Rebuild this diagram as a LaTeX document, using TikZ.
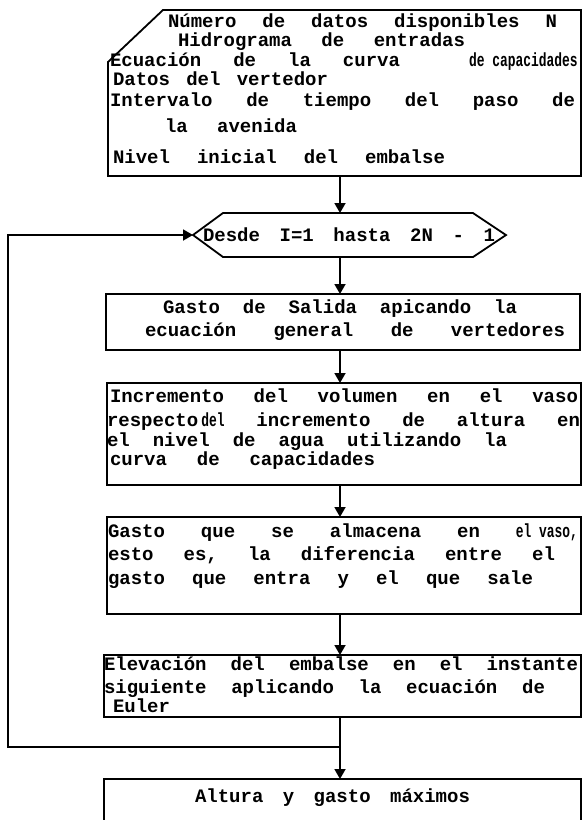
\documentclass[tikz,border=0pt]{standalone}
\usepackage{fontspec}
\usepackage{graphicx}
\usetikzlibrary{arrows.meta}
\newfontfamily\tw{Liberation Mono}
\newcommand\narrowtxt[1]{\scalebox{0.68}[1]{#1}}
\tikzset{
  ln/.style={line width=1.8pt},
  box/.style={ln, draw, rectangle, inner sep=0pt, outer sep=0pt},
  ghost/.style={rectangle, inner sep=0pt, outer sep=0pt},
  arr/.style={ln, -{Triangle[width=11pt,length=10pt]}},
  txt/.style={anchor=base west, inner sep=0pt, outer sep=0pt,
              font=\tw\bfseries\fontsize{19}{20}\selectfont}
}
\newcommand\txl[5]{\node[txt] (#1) at (#2,#3) {\hbox to #4pt{#5}};}
\begin{document}
\begin{tikzpicture}[x=1pt,y=-1pt]
\useasboundingbox (0,0) rectangle (582,820);
% boxes
\node[ghost, minimum width=473pt, minimum height=166pt] (b1) at (344.5,93) {};
\draw[ln] ([xshift=55pt]b1.north west) -- (b1.north east) -- (b1.south east)
   -- (b1.south west) -- ([yshift=-52pt]b1.north west) -- cycle;
\node[ghost, minimum width=250pt, minimum height=44pt] (hex) at (348,235) {};
\coordinate (hexL) at ([xshift=-30pt]hex.west);
\coordinate (hexR) at ([xshift=33pt]hex.east);
\draw[ln] (hex.north west) -- (hex.north east) -- (hexR) -- (hex.south east)
   -- (hex.south west) -- (hexL) -- cycle;
\node[box, minimum width=474pt, minimum height=56pt] (b2) at (343,322) {};
\node[box, minimum width=474pt, minimum height=102pt] (b3) at (344,434) {};
\node[box, minimum width=474pt, minimum height=97pt] (b4) at (344,565.5) {};
\node[box, minimum width=477pt, minimum height=62pt] (b5) at (342.5,686) {};
\node[box, minimum width=477pt, minimum height=61pt] (b6) at (342.5,809.5) {};
% connectors
\coordinate (ax) at (340,0);
\coordinate (jn) at (340,747);
\coordinate (lc) at (8,747);
\draw[arr] (b1.south -| ax) -- (hex.north -| ax);
\draw[arr] (hex.south -| ax) -- (b2.north -| ax);
\draw[arr] (b2.south -| ax) -- (b3.north -| ax);
\draw[arr] (b3.south -| ax) -- (b4.north -| ax);
\draw[arr] (b4.south -| ax) -- (b5.north -| ax);
\draw[arr] (b5.south -| ax) -- (b6.north -| ax);
\draw[arr] (jn) -- (lc) |- (hexL);
% texts
\txl{t11}{168}{27}{389}{Número\hfill de\hfill datos\hfill disponibles\hfill N}
\txl{t12}{178}{46}{287}{Hidrograma\hfill de\hfill entradas}
\txl{t13}{110}{66}{290}{Ecuación\hfill de\hfill la\hfill curva}
\txl{t13b}{469}{66}{109}{\narrowtxt{de capacidades}\hfill}
\txl{t14}{113}{85}{215}{Datos\hfill del\hfill vertedor}
\txl{t15}{110}{106}{465}{Intervalo\hfill de\hfill tiempo\hfill del\hfill paso\hfill de}
\txl{t16}{165}{132}{132}{la\hfill avenida}
\txl{t17}{113}{163}{332}{Nivel\hfill inicial\hfill del\hfill embalse}
\txl{th}{203}{241}{292}{Desde\hfill I=1\hfill hasta\hfill 2N\hfill -\hfill 1}
\txl{t21}{163}{313}{354}{Gasto\hfill de\hfill Salida\hfill apicando\hfill la}
\txl{t22}{145}{336}{420}{ecuación\hfill general\hfill de\hfill vertedores}
\txl{t31}{110}{402}{468}{Incremento\hfill del\hfill volumen\hfill en\hfill el\hfill vaso}
\txl{t32}{107}{426}{473}{respecto\,\narrowtxt{del}\hfill incremento\hfill de\hfill altura\hfill en}
\txl{t33}{107}{446}{400}{el\hfill nivel\hfill de\hfill agua\hfill utilizando\hfill la}
\txl{t34}{110}{465}{265}{curva\hfill de\hfill capacidades}
\txl{t41}{108}{537}{470}{Gasto\hfill que\hfill se\hfill almacena\hfill en\hfill\narrowtxt{el vaso,}}
\txl{t42}{108}{560}{447}{esto\hfill es,\hfill la\hfill diferencia\hfill entre\hfill el}
\txl{t43}{108}{584}{425}{gasto\hfill que\hfill entra\hfill y\hfill el\hfill que\hfill sale}
\txl{t51}{104}{670}{474}{Elevación\hfill del\hfill embalse\hfill en\hfill el\hfill instante}
\txl{t52}{104}{693}{441}{siguiente\hfill aplicando\hfill la\hfill ecuación\hfill de}
\txl{t53}{113}{712}{62}{Euler}
\txl{t61}{195}{802}{275}{Altura\hfill y\hfill gasto\hfill máximos}
\end{tikzpicture}
\end{document}
